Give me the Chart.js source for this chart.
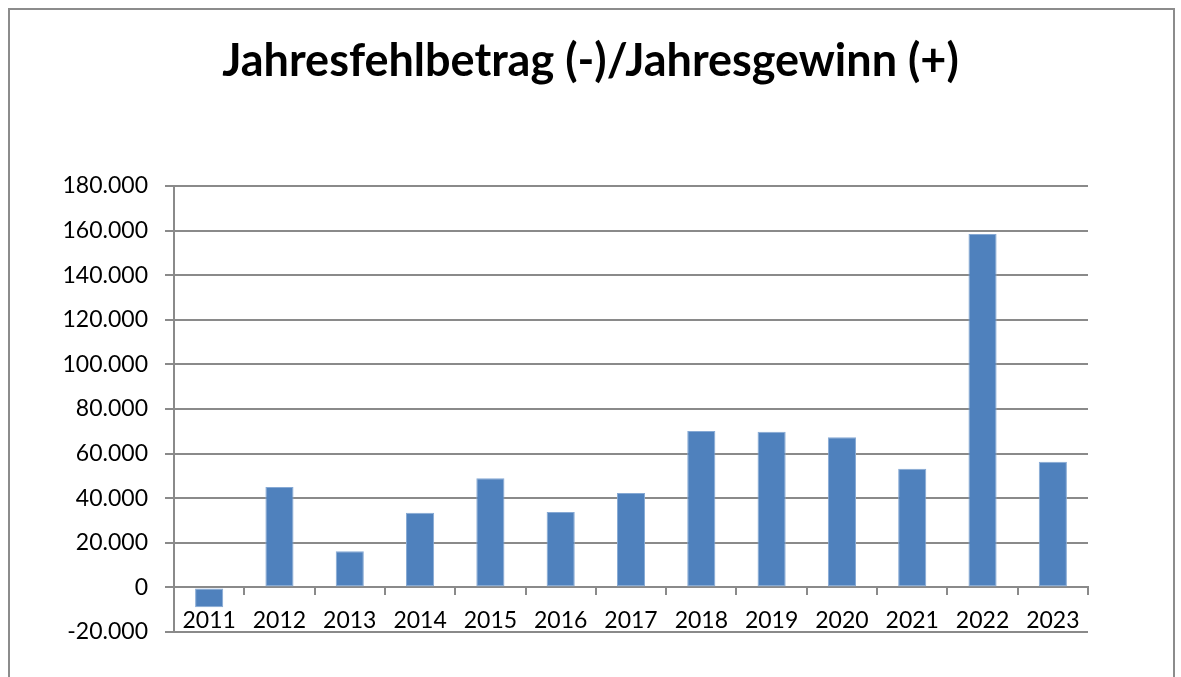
<!DOCTYPE html>
<html><head><meta charset="utf-8">
<script src="https://cdn.jsdelivr.net/npm/chart.js@4/dist/chart.umd.min.js"></script>
<style>
html,body{margin:0;padding:0;background:#fff;}
#wrap{position:relative;width:1181px;height:677px;overflow:hidden;}
#frame{position:absolute;left:8px;top:8px;width:1163px;height:720px;border:2px solid #8c8c8c;}
canvas{position:absolute;left:0;top:0;}
</style></head>
<body><div id="wrap"><div id="frame"></div><canvas id="c" width="1181" height="677"></canvas></div>
<script>
const titleText = 'Jahresfehlbetrag (-)/Jahresgewinn (+)';
const years = ['2011','2012','2013','2014','2015','2016','2017','2018','2019','2020','2021','2022','2023'];
const values = [-8900, 45000, 16200, 33500, 49000, 33800, 42300, 70100, 69800, 67300, 53200, 158500, 56300];
const yMin = -20000, yMax = 180000, yStep = 20000;

const fontFam = 'Lato, "Open Sans", sans-serif';
const fmt = v => {
  const s = Math.abs(v).toString().replace(/\B(?=(\d{3})+(?!\d))/g, '.');
  return (v < 0 ? '-' : '') + s;
};
const gray = '#8a8a8a';

new Chart(document.getElementById('c'), {
  type: 'bar',
  data: {
    labels: years,
    datasets: [{
      data: values,
      backgroundColor: '#4f81bd',
      borderColor: '#86a9d4',
      borderWidth: 1,
      borderSkipped: false,
      barPercentage: 0.4,
      categoryPercentage: 1.0
    }]
  },
  options: {
    responsive: false,
    animation: false,
    devicePixelRatio: 1,
    layout: { padding: { left: 0, right: 0, top: 0, bottom: 45 } },
    plugins: {
      legend: { display: false },
      tooltip: { enabled: false },
      title: {
        display: true,
        text: titleText,
        color: '#000',
        font: { family: fontFam, size: 45, weight: 'bold', lineHeight: 1.2 },
        padding: { top: 34, bottom: 98 }
      }
    },
    scales: {
      x: {
        position: { y: 0 },
        offset: true,
        grid: { drawOnChartArea: false, drawTicks: true, tickLength: 7, color: gray, lineWidth: 2, offset: true },
        border: { display: true, color: gray, width: 2 },
        ticks: { color: '#000', font: { family: fontFam, size: 23 }, padding: 12, maxRotation: 0, autoSkip: false }
      },
      y: {
        min: yMin, max: yMax,
        afterFit: s => { s.width = 174; },
        grid: { color: gray, lineWidth: 2, tickLength: 9, drawTicks: true },
        border: { display: true, color: gray, width: 2 },
        ticks: { stepSize: yStep, color: '#000', font: { family: fontFam, size: 23 }, padding: 17, callback: v => fmt(v) }
      },
      yRight: {
        type: 'linear',
        position: 'right',
        min: yMin, max: yMax,
        afterFit: s => { s.width = 93; },
        grid: { display: false },
        border: { display: false },
        ticks: { display: false }
      }
    }
  }
});
</script></body></html>
